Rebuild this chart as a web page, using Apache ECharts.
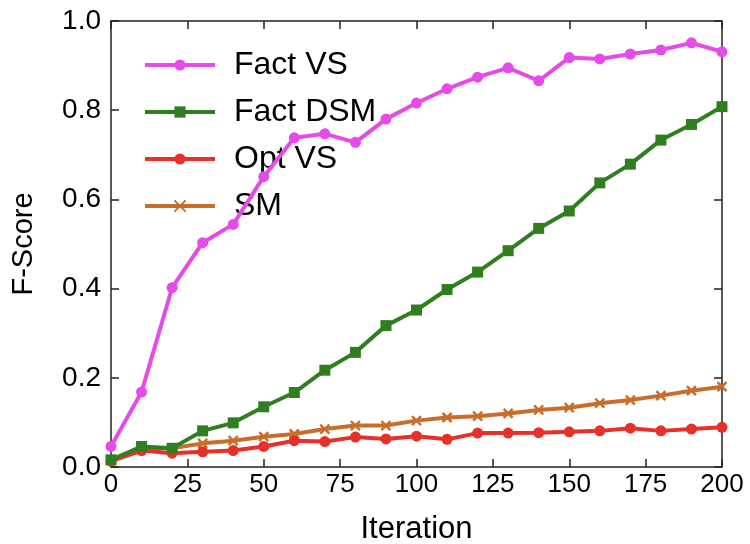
<!DOCTYPE html>
<html>
<head>
<meta charset="utf-8">
<script src="https://cdn.jsdelivr.net/npm/echarts@6/dist/echarts.min.js"></script>
<style>html,body{margin:0;padding:0;background:#fff}#c{width:750px;height:544px}</style>
</head>
<body>
<div id="c"></div>
<script>
const iterations = [0,10,20,30,40,50,60,70,80,90,100,110,120,130,140,150,160,170,180,190,200];
const factVS  = [0.046,0.168,0.402,0.503,0.544,0.651,0.738,0.747,0.728,0.780,0.816,0.848,0.874,0.895,0.866,0.918,0.915,0.926,0.935,0.951,0.931];
const factDSM = [0.016,0.046,0.042,0.081,0.099,0.135,0.167,0.217,0.257,0.317,0.352,0.398,0.437,0.485,0.535,0.574,0.637,0.679,0.733,0.768,0.808];
const optVS   = [0.013,0.037,0.031,0.034,0.037,0.046,0.059,0.057,0.067,0.063,0.069,0.062,0.076,0.076,0.077,0.079,0.081,0.087,0.081,0.085,0.089];
const sm      = [0.016,0.042,0.042,0.053,0.059,0.068,0.074,0.085,0.093,0.093,0.104,0.111,0.114,0.120,0.128,0.133,0.143,0.150,0.160,0.171,0.180];
const seriesNames = ['Fact VS','Fact DSM','Opt VS','SM'];
const colors = ['#e64ae8','#2f7f20','#e8302a','#c86e2a'];
const symbols = ['circle','rect','circle','path://M0,0L10,10M10,0L0,10'];
const symbolSizes = [11,11,11,9];
const xTicks = [0,25,50,75,100,125,150,175,200];

const allData = [factVS, factDSM, optVS, sm];
const chart = echarts.init(document.getElementById('c'), null, {renderer:'canvas'});
const axisLine = () => ({show:true, onZero:false, lineStyle:{color:'#222', width:1.5}});
const axisTick = () => ({show:true, inside:true, length:8, lineStyle:{color:'#222', width:1.5}});
const option = {
  animation:false,
  backgroundColor:'#fff',
  grid:{left:111, right:28, top:21, bottom:77, containLabel:false, outerBoundsMode:'none'},
  legend:{
    orient:'vertical', left:138, top:44,
    itemWidth:70, itemHeight:14, itemGap:15,
    data:seriesNames,
    lineStyle:{width:4},
    textStyle:{fontFamily:'Liberation Sans, Arial, sans-serif', fontSize:32, color:'#000', padding:[0,0,0,14]}
  },
  xAxis:[{
    type:'value', min:0, max:200, interval:25,
    name:'Iteration', nameLocation:'middle', nameGap:47,
    nameTextStyle:{fontFamily:'Liberation Sans, Arial, sans-serif', fontSize:31, color:'#000'},
    axisLine:axisLine(), axisTick:axisTick(), splitLine:{show:false},
    axisLabel:{fontFamily:'Liberation Sans Narrow, Liberation Sans, Arial, sans-serif', fontSize:26, color:'#000', margin:5,
      formatter:v=>xTicks.includes(v)?String(v):''}
  },{
    type:'value', min:0, max:200, interval:25, position:'top',
    axisLine:axisLine(), axisTick:axisTick(), axisLabel:{show:false}, splitLine:{show:false}
  }],
  yAxis:[{
    type:'value', min:0, max:1, interval:0.2,
    name:'F-Score', nameLocation:'middle', nameGap:73, nameRotate:90,
    nameTextStyle:{fontFamily:'Liberation Sans, Arial, sans-serif', fontSize:29, color:'#000'},
    axisLine:axisLine(), axisTick:axisTick(), splitLine:{show:false},
    axisLabel:{fontFamily:'Liberation Sans, Arial, sans-serif', fontSize:28, color:'#000', margin:10,
      formatter:v=>v.toFixed(1)}
  },{
    type:'value', min:0, max:1, interval:0.2, position:'right',
    axisLine:axisLine(), axisTick:axisTick(), axisLabel:{show:false}, splitLine:{show:false}
  }],
  series: seriesNames.map((n,i)=>({
    name:n, type:'line', xAxisIndex:0, yAxisIndex:0,
    data: iterations.map((x,j)=>[x, allData[i][j]]),
    symbol:symbols[i], symbolSize:symbolSizes[i], showSymbol:true,
    lineStyle:{color:colors[i], width:4},
    itemStyle:{color:colors[i], borderColor:colors[i], borderWidth: i===3?2.5:0},
    z: 10 - i,
    clip:false
  }))
};
chart.setOption(option);
</script>
</body>
</html>
